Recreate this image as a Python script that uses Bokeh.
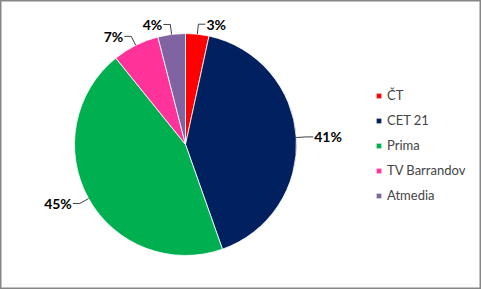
import numpy as np
from bokeh.plotting import figure
from bokeh.models import ColumnDataSource, Range1d, Legend, LegendItem
from bokeh.embed import file_html
from bokeh.resources import INLINE
from bokeh.core.properties import value

categories = ["ČT", "CET 21", "Prima", "TV Barrandov", "Atmedia"]
shares = [3.4, 41.2, 44.6, 6.8, 4.0]
labels = ["3%", "41%", "45%", "7%", "4%"]
colors = ["#FF0000", "#002060", "#00B050", "#FF3399", "#8064A2"]

W, H = 481, 289
cx, cy, R = 185.0, 145.0, 111.0

frac = np.array(shares) / sum(shares)
cum_end = np.cumsum(frac)
cum_start = cum_end - frac
start = np.pi / 2 - 2 * np.pi * cum_start
end = np.pi / 2 - 2 * np.pi * cum_end
mid_t = 2 * np.pi * (cum_start + frac / 2)  # clockwise from top

src = ColumnDataSource(dict(name=categories, start=start, end=end, color=colors))

p = figure(width=W, height=H, x_range=Range1d(0, W), y_range=Range1d(0, H),
           output_backend="svg", toolbar_location=None, min_border=0)
p.axis.visible = False
p.grid.visible = False
p.outline_line_color = "#868686"
p.outline_line_width = 2
p.background_fill_color = "white"
p.border_fill_color = "white"

w = p.wedge(x=cx, y=cy, radius=R, start_angle="start", end_angle="end",
            direction="clock", fill_color="color", line_color="white",
            line_width=0.8, source=src)

# leader lines and labels
sx, sy = np.sin(mid_t), np.cos(mid_t)
ax_, ay_ = cx + R * sx, cy + R * sy
ex, ey = cx + 1.09 * R * sx, cy + 1.09 * R * sy
side = np.where(sx >= 0, 1.0, -1.0)
hx = ex + 7 * side
p.segment(x0=ax_, y0=ay_, x1=ex, y1=ey, line_color="#404040", line_width=1)
p.segment(x0=ex, y0=ey, x1=hx, y1=ey, line_color="#404040", line_width=1)
lsrc = ColumnDataSource(dict(x=hx + 1 * side, y=ey, t=labels,
                             align=["left" if s > 0 else "right" for s in side]))
p.text(x="x", y="y", text="t", text_align="align", text_baseline="middle",
       text_font=value("Lato"), text_font_size="14px", text_font_style="bold",
       text_color="black", source=lsrc)

legend = Legend(items=[LegendItem(label=c, renderers=[w], index=i) for i, c in enumerate(categories)],
                location=(375, 84), glyph_width=7, glyph_height=7, label_height=20,
                spacing=5, padding=0, margin=0, border_line_color=None,
                background_fill_alpha=0, label_text_font="Lato",
                label_text_font_size="13px", label_standoff=5)
p.add_layout(legend, "center")

open("out.html", "w").write(file_html(p, INLINE))
